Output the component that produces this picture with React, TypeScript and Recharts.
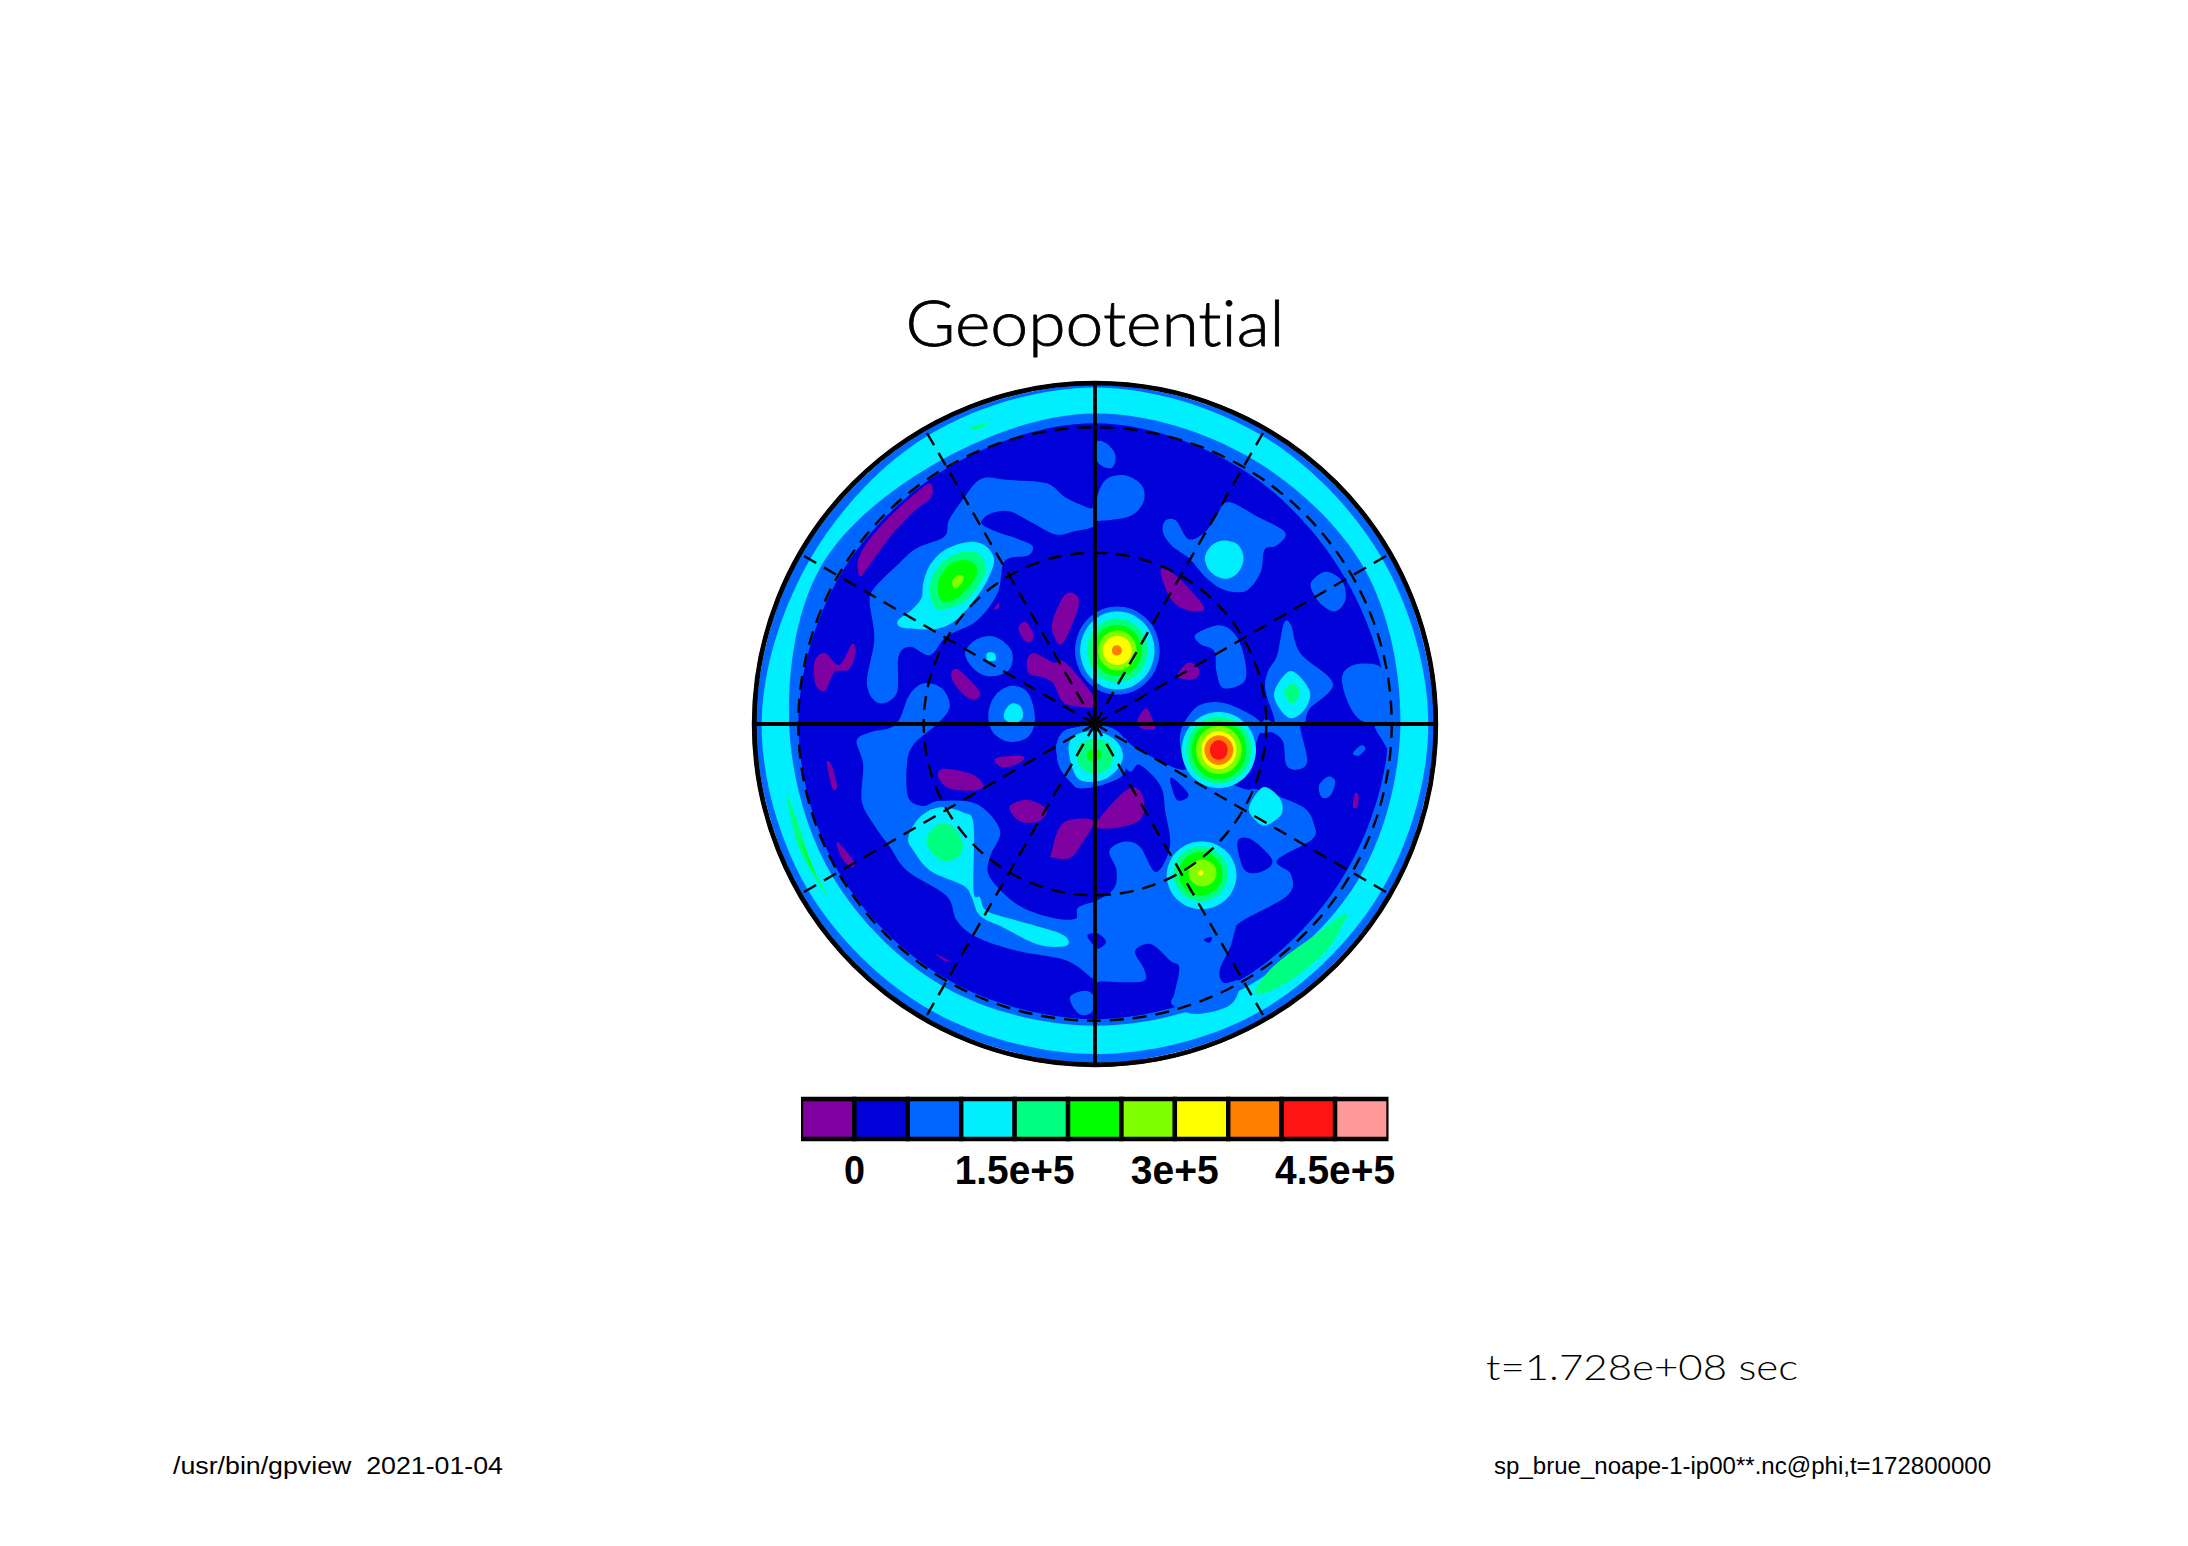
import React from "react";
import { ScatterChart, Scatter, XAxis, YAxis, RadarChart, PolarGrid, BarChart, Bar } from "recharts";

type P = [number, number];

// palette of contour levels
const PURPLE = "#7f00a0", DARK = "#0000d8", BLUE = "#0066ff", CYAN = "#00eeff", SPRING = "#00ff80";
const GREEN = "#00ff00", LIME = "#80ff00", YELLOW = "#ffff00", ORANGE = "#ff8000", RED = "#ff1414", PINK = "#ff9999";

// colour bar
const levelColors = [PURPLE, DARK, BLUE, CYAN, SPRING, GREEN, LIME, YELLOW, ORANGE, RED, PINK];
const levelStep = [-50000, 50000, 50000, 50000, 50000, 50000, 50000, 50000, 50000, 50000, 50000];
const levelTicks = [0, 150000, 300000, 450000];
const levelTickLabels = ["0", "1.5e+5", "3e+5", "4.5e+5"];
const levelTickWidths = [21, 120, 88, 120];

// graticule
const solidMeridians = [0, 90, 180, 270];
const dashedMeridians = [30, 60, 120, 150, 210, 240, 300, 330];
const dashedCircles = [171.3, 296.7];
const outerCircle = [340.8];

// rim contours: radius read at each bearing (map units)
const rimBearings = [0, 30, 60, 90, 120, 150, 180, 210, 240, 270, 300, 330];
const rimBase = [728, 728, 728, 728, 728, 728, 728, 728, 728, 728, 728, 728];
const rimCyanOuter = [723, 716, 712, 716, 712, 712, 709, 709, 712, 716, 707, 716];
const rimCyanInner = [667, 662, 668, 656, 657, 652, 648, 651, 652, 657, 679, 656];
const rimBlueInner = [646, 632, 622, 631, 626, 632, 634, 634, 636, 637, 634, 635];

// traced contours (map units)
const blueNorthWest: P[] = [[540,255],[600,258],[680,265],[720,295],[770,318],[784,318],[784,355],[740,368],[700,375],[650,350],[600,325],[560,330],[540,350],[570,368],[620,385],[650,400],[640,420],[590,432],[575,500],[530,560],[465,594],[430,634],[387,616],[362,637],[358,716],[319,737],[294,695],[310,600],[300,520],[310,490],[360,440],[400,405],[460,380],[470,345],[500,300]];
const blueNorthTip: P[] = [[788,175],[810,180],[828,205],[820,232],[795,225],[785,205]];
const blueNorthLobe: P[] = [[790,290],[810,255],[850,248],[885,270],[888,305],[860,335],[800,345],[788,340]];
const blueNorthEast: P[] = [[1070,305],[1130,335],[1192,370],[1175,398],[1148,408],[1140,455],[1110,495],[1065,495],[1025,470],[985,425],[950,400],[930,370],[935,345],[958,345],[985,385],[1020,370],[1045,335]];
const blueEastTip: P[] = [[1250,475],[1280,455],[1315,475],[1322,515],[1300,540],[1270,525],[1250,495]];
const blueMidEast: P[] = [[1000,590],[1050,570],[1085,590],[1105,640],[1105,690],[1060,705],[1045,670],[1040,625],[1010,610]];
const blueWestSmall: P[] = [[505,630],[530,600],[570,595],[605,625],[600,665],[560,680],[525,665]];
const blueWestMid: P[] = [[555,760],[570,720],[605,700],[640,715],[655,770],[640,810],[600,820],[565,800]];
const blueEastLobed: P[] = [[1190,565],[1205,570],[1225,630],[1295,695],[1245,750],[1235,780],[1225,790],[1240,860],[1220,880],[1195,870],[1188,820],[1165,800],[1140,800],[1148,772],[1170,775],[1150,710],[1155,670],[1175,635]];
const blueFarEast: P[] = [[1315,680],[1340,655],[1395,658],[1410,700],[1425,782],[1390,785],[1350,770],[1325,730]];
const blueFarEastLobe: P[] = [[1385,782],[1425,782],[1420,840],[1400,815]];
const blueEastDot1: P[] = [[1265,915],[1285,895],[1300,905],[1290,935],[1272,940]];
const blueEastDot2: P[] = [[1338,845],[1355,828],[1365,835],[1350,850]];
const blueSouthDot: P[] = [[730,1370],[760,1355],[780,1365],[778,1400],[750,1405]];
const blueRedCap: P[] = [[966,816],[995,752],[1041,735],[1092,748],[1142,781],[1132,816],[1100,900],[1000,900]];
const blueCentre: P[] = [[702,823],[716,798],[745,789],[781,784],[820,791],[845,812],[850,850],[845,890],[802,912],[752,920],[734,909],[709,877],[702,848]];
const blueSouthBand: P[] = [[272,818],[300,800],[345,790],[365,770],[385,720],[415,695],[455,705],[472,745],[445,782],[395,825],[380,868],[383,940],[415,958],[451,947],[530,954],[580,1011],[558,1068],[558,1111],[616,1169],[687,1197],[741,1201],[748,1176],[790,1160],[825,1135],[830,1095],[815,1055],[845,1035],[880,1045],[915,1100],[945,1045],[935,970],[925,915],[881,870],[859,884],[835,850],[845,812],[866,830],[924,862],[968,880],[1000,880],[1100,920],[1140,925],[1230,960],[1255,1000],[1250,1030],[1175,1075],[1205,1105],[1198,1150],[1100,1205],[1085,1225],[1075,1260],[1052,1310],[1060,1338],[1095,1335],[1075,1385],[1000,1405],[950,1385],[955,1360],[965,1305],[945,1290],[905,1255],[870,1270],[890,1310],[885,1335],[800,1335],[784,1333],[723,1290],[616,1269],[530,1240],[487,1204],[465,1151],[380,1097],[344,1047],[308,997],[283,947],[286,868]];

const darkHole1: P[] = [[1090,1035],[1120,1030],[1165,1075],[1140,1100],[1105,1095]];
const darkHole2: P[] = [[945,900],[960,905],[985,935],[960,945]];
const darkHole3: P[] = [[768,1235],[790,1232],[808,1250],[790,1265],[775,1250]];
const darkHole4: P[] = [[1018,1245],[1035,1240],[1030,1252]];

const cyanNorthEast: P[] = [[1020,425],[1035,398],[1062,388],[1092,398],[1103,428],[1090,458],[1062,470],[1032,455]];
const cyanWestDot: P[] = [[552,630],[568,630],[570,645],[553,645]];
const cyanWestMid: P[] = [[590,755],[605,738],[625,745],[628,770],[608,780],[590,772]];
const cyanEastLobed: P[] = [[1170,710],[1205,668],[1245,710],[1235,750],[1205,770],[1178,745]];
const springEastLobed: P[] = [[1190,715],[1208,695],[1225,715],[1208,738]];
const cyanSouthEastDot: P[] = [[1115,960],[1145,918],[1180,940],[1185,975],[1150,1000],[1125,985]];
const cyanSouthWest: P[] = [[383,1025],[408,982],[451,961],[501,972],[523,997],[523,1140],[537,1154],[551,1183],[616,1204],[702,1229],[727,1247],[716,1260],[659,1255],[587,1219],[537,1194],[519,1154],[501,1129],[430,1097],[394,1054]];
const springSouthWest: P[] = [[422,1029],[448,997],[480,1004],[500,1040],[490,1068],[458,1076],[433,1058]];
const cyanNorthWest: P[] = [[361,559],[390,537],[411,512],[415,480],[429,441],[461,408],[512,391],[547,398],[567,426],[558,462],[533,505],[490,555],[447,577],[390,577],[365,573]];
const springNorthWest: P[] = [[429,498],[436,462],[461,430],[501,412],[533,416],[549,444],[540,476],[508,516],[469,534],[443,534]];
const greenNorthWest: P[] = [[447,498],[451,466],[476,437],[508,430],[529,444],[526,469],[501,501],[472,519],[454,516]];
const limeNorthWest: P[] = [[477,476],[490,462],[502,467],[497,480],[483,491]];
const cyanCentre: P[] = [[727,834],[738,809],[766,798],[802,802],[831,820],[844,848],[834,877],[802,902],[759,905],[738,884]];
const springCentre: P[] = [[745,848],[755,823],[784,814],[813,823],[824,848],[813,877],[784,889],[755,877]];
const greenCentre: P[] = [[766,848],[777,836],[791,837],[798,848],[789,860],[773,860]];
const springRimWest: P[] = [[122,932],[150,1005],[179,1090],[211,1151],[190,1125],[150,1054],[132,990]];
const greenRimWest: P[] = [[150,1030],[165,1060],[185,1110],[172,1085]];
const springRimEast: P[] = [[1130,1350],[1170,1300],[1250,1240],[1320,1190],[1320,1205],[1280,1270],[1200,1335],[1140,1362]];
const springRimNorth: P[] = [[518,145],[550,135],[548,142],[525,150]];

// peaks: [fill, centre x, centre y, radius x, radius y]
type Ring = [string, number, number, number, number];
const peakNorth: Ring[] = [[BLUE,832,624,91,95],[CYAN,832,624,80,84],[SPRING,832,624,65,69],[GREEN,832,624,52,55],[LIME,832,624,41,43],[YELLOW,832,624,31,31],[ORANGE,831,624,11,11]];
const peakEast: Ring[] = [[CYAN,1050,838,80,82],[SPRING,1050,838,70,72],[GREEN,1050,838,59,63],[LIME,1050,838,49,52],[YELLOW,1050,838,38,41],[ORANGE,1050,838,31,32],[RED,1050,838,19,21]];
const peakSouthEast: Ring[] = [[CYAN,1013,1107,75,73],[SPRING,1011,1104,59,59],[GREEN,1011,1104,47,47],[LIME,1015,1102,30,29],[YELLOW,1011,1102,6,6]];

const purple01: P[] = [[430,265],[432,295],[390,330],[340,385],[300,440],[280,465],[275,430],[300,385],[350,330],[400,285]];
const purple02: P[] = [[185,640],[205,630],[235,655],[262,610],[270,630],[255,665],[225,670],[205,710],[185,700],[180,665]];
const purple03: P[] = [[693,560],[715,510],[735,500],[750,520],[730,580],[710,612],[695,590]];
const purple04: P[] = [[620,575],[635,563],[652,590],[645,607],[630,600]];
const purple05: P[] = [[640,640],[655,630],[695,650],[720,650],[780,720],[785,745],[750,745],[715,735],[690,690],[645,675],[638,660]];
const purple06: P[] = [[475,675],[490,665],[535,710],[530,728],[510,725],[485,700]];
const purple07: P[] = [[567,535],[577,522],[578,533]];
const purple08: P[] = [[925,450],[960,465],[1015,525],[1010,540],[975,535],[945,510]];
const purple09: P[] = [[962,675],[985,650],[1008,665],[1000,685],[970,685]];
const purple10: P[] = [[875,775],[893,748],[907,770],[912,792],[885,792]];
const purple11: P[] = [[572,855],[625,850],[628,862],[595,875],[575,870]];
const purple12: P[] = [[447,895],[460,878],[520,890],[545,915],[520,925],[470,920]];
const purple13: P[] = [[600,960],[640,945],[680,965],[665,990],[625,992]];
const purple14: P[] = [[790,990],[850,925],[880,925],[890,965],[870,995],[800,1007]];
const purple15: P[] = [[690,1060],[715,995],[780,990],[755,1040],[730,1070],[690,1068]];
const purple16: P[] = [[208,865],[218,870],[230,915],[220,920]];
const purple17: P[] = [[230,1035],[265,1075],[262,1090],[240,1070]];
const purple18: P[] = [[1338,960],[1342,932],[1350,935],[1348,960]];
const purple19: P[] = [[440,1275],[470,1290],[460,1290]];

const MAP_X = 784, MAP_Y = 782;
const rim = (radii: number[]): P[] =>
  rimBearings.map((b, i) => [MAP_X + radii[i] * Math.sin((b * Math.PI) / 180), MAP_Y - radii[i] * Math.cos((b * Math.PI) / 180)] as P);
const ring = ([, cx, cy, rx, ry]: Ring): P[] =>
  [0, 1, 2, 3, 4, 5, 6, 7, 8, 9].map((k) => [cx + rx * Math.cos((k * Math.PI) / 5), cy + ry * Math.sin((k * Math.PI) / 5)] as P);

const layers: [string, P[]][] = [
  [BLUE, rim(rimBase)], [CYAN, rim(rimCyanOuter)], [BLUE, rim(rimCyanInner)], [DARK, rim(rimBlueInner)],
  [SPRING, springRimWest], [GREEN, greenRimWest], [SPRING, springRimEast], [SPRING, springRimNorth],
  ...[blueNorthWest, blueNorthTip, blueNorthLobe, blueNorthEast, blueEastTip, blueMidEast, blueWestSmall, blueWestMid, blueEastLobed, blueFarEast, blueFarEastLobe, blueEastDot1, blueEastDot2, blueSouthDot, blueRedCap, blueCentre, blueSouthBand].map((p) => [BLUE, p] as [string, P[]]),
  ...[darkHole1, darkHole2, darkHole3, darkHole4].map((p) => [DARK, p] as [string, P[]]),
  ...[purple01, purple02, purple03, purple04, purple05, purple06, purple07, purple08, purple09, purple10, purple11, purple12, purple13, purple14, purple15, purple16, purple17, purple18, purple19].map((p) => [PURPLE, p] as [string, P[]]),
  [CYAN, cyanNorthEast], [CYAN, cyanWestDot], [CYAN, cyanWestMid], [CYAN, cyanEastLobed], [SPRING, springEastLobed], [CYAN, cyanSouthEastDot],
  [CYAN, cyanSouthWest], [SPRING, springSouthWest],
  [CYAN, cyanNorthWest], [SPRING, springNorthWest], [GREEN, greenNorthWest], [LIME, limeNorthWest],
  [BLUE, blueCentre], [CYAN, cyanCentre], [SPRING, springCentre], [GREEN, greenCentre],
  ...[...peakNorth, ...peakEast, ...peakSouthEast].map((r) => [r[0], ring(r)] as [string, P[]]),
];

const closedPath = (pts: { x: number; y: number }[]) => {
  const n = pts.length;
  let d = `M${pts[0].x},${pts[0].y}`;
  for (let i = 0; i < n; i++) {
    const a = pts[(i - 1 + n) % n], b = pts[i], c = pts[(i + 1) % n], e = pts[(i + 2) % n];
    d += `C${b.x + (c.x - a.x) / 6},${b.y + (c.y - a.y) / 6} ${c.x - (e.x - b.x) / 6},${c.y - (e.y - b.y) / 6} ${c.x},${c.y}`;
  }
  return d + "Z";
};

const barRow = [Object.fromEntries(levelStep.map((v, i) => [`level${i}`, v]))];
const graticuleRows = [...solidMeridians, ...dashedMeridians].map((m) => ({ m, v: 1 }));

const ColorTick = (props: any) => {
  const i = levelTicks.indexOf(props.payload.value);
  return (
    <text x={props.x} y={props.y + 45} textAnchor="middle" fontFamily="Liberation Sans" fontWeight={700} fontSize={40} fill="#000" textLength={levelTickWidths[i]} lengthAdjust="spacingAndGlyphs">
      {levelTickLabels[i]}
    </text>
  );
};

const FONT = "Lato";

export default function App() {
  return (
    <div style={{ position: "absolute", left: 0, top: 0, width: 2188, height: 1546, background: "#fff", overflow: "hidden" }}>
      <div style={{ position: "absolute", left: 752, top: 381 }}>
        <ScatterChart width={686} height={686} margin={{ top: 0, right: 0, bottom: 0, left: 0 }}>
          <XAxis type="number" dataKey="x" domain={[47.2, 1520.8]} hide allowDataOverflow />
          <YAxis type="number" dataKey="y" domain={[45.2, 1518.8]} reversed hide allowDataOverflow />
          {layers.map(([fill, pts], i) => (
            <Scatter
              key={i}
              data={pts.map(([x, y]) => ({ x, y }))}
              fill={fill}
              isAnimationActive={false}
              shape={() => <g />}
              line={(p: any) => <path d={closedPath(p.points)} fill={fill} stroke="none" />}
            />
          ))}
        </ScatterChart>
      </div>
      <div style={{ position: "absolute", left: 735, top: 364 }}>
        <RadarChart width={720} height={720} cx={360} cy={360} outerRadius={341} data={graticuleRows} margin={{ top: 0, right: 0, bottom: 0, left: 0 }}>
          <PolarGrid gridType="circle" polarAngles={dashedMeridians} polarRadius={dashedCircles} stroke="#000" strokeWidth={2.4} strokeDasharray="14 9" />
          <PolarGrid gridType="circle" polarAngles={solidMeridians} polarRadius={outerCircle} stroke="#000" strokeWidth={3.8} />
          <PolarGrid gridType="circle" polarAngles={[]} polarRadius={outerCircle} stroke="#000" strokeWidth={4.8} />
        </RadarChart>
      </div>
      <div style={{ position: "absolute", left: 770, top: 1089 }}>
        <BarChart width={650} height={120} layout="vertical" data={barRow} stackOffset="sign" barCategoryGap={0} margin={{ top: 10, right: 31.5, bottom: 0, left: 31 }}>
          <XAxis type="number" domain={[-50000, 500000]} ticks={levelTicks} height={70} axisLine={false} tickLine={false} tickSize={0} tickMargin={0} tick={<ColorTick />} interval={0} allowDataOverflow />
          <YAxis type="category" hide />
          {levelColors.map((c, i) => (
            <Bar key={i} dataKey={`level${i}`} stackId="levels" fill={c} stroke="#000" strokeWidth={4.4} isAnimationActive={false} />
          ))}
        </BarChart>
      </div>
      <svg width={2188} height={1546} style={{ position: "absolute", left: 0, top: 0, pointerEvents: "none" }}>
        <text x={905.5} y={346} fontFamily={FONT} fontWeight={300} fontSize={64} stroke="#000" strokeWidth={0.8} textLength={379} lengthAdjust="spacingAndGlyphs" style={{ fontVariantLigatures: "none" }}>Geopotential</text>
        <text x={1486} y={1380} fontFamily={FONT} fontWeight={300} fontSize={36} textLength={312} lengthAdjust="spacingAndGlyphs">t=1.728e+08 sec</text>
        <text x={173} y={1474} fontFamily="Liberation Sans" fontSize={23} textLength={330} lengthAdjust="spacingAndGlyphs" xmlSpace="preserve">/usr/bin/gpview  2021-01-04</text>
        <text x={1494} y={1474} fontFamily="Liberation Sans" fontSize={23} textLength={497} lengthAdjust="spacingAndGlyphs">sp_brue_noape-1-ip00**.nc@phi,t=172800000</text>
      </svg>
    </div>
  );
}
